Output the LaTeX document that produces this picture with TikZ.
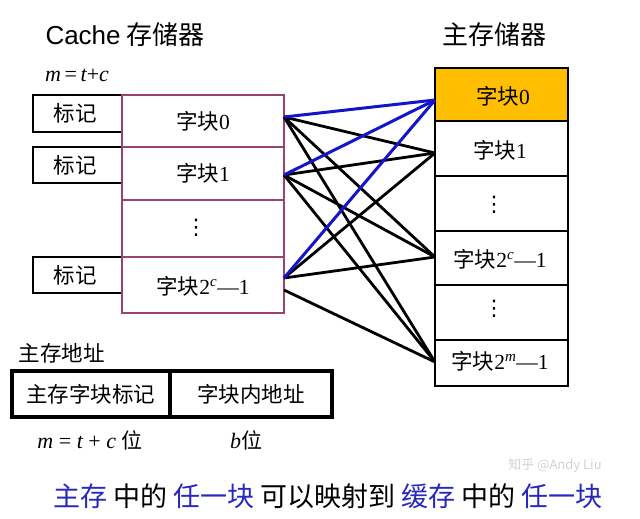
\documentclass[tikz,border=0pt]{standalone}
\usepackage{fontspec}
\setmainfont{Liberation Serif}
\newfontfamily\cjk{Noto Sans CJK SC}
\newfontfamily\djvfont{DejaVu Sans}
\definecolor{pinkb}{RGB}{150,70,110}
\definecolor{orng}{RGB}{255,190,0}
\definecolor{bl}{RGB}{20,20,200}
\definecolor{txtblue}{RGB}{40,40,190}
\newcommand{\vd}{{\djvfont ⋮}}
\newcommand{\mi}[1]{{\rmfamily\itshape #1}}
\newcommand{\rn}[1]{{\rmfamily #1}}
\begin{document}
\begin{tikzpicture}[x=1pt,y=-1pt,
  lbl/.style={font=\cjk\fontsize{21.5}{24}\selectfont},
  cell/.style={draw=pinkb,line width=2.5pt,fill=white},
  tagbox/.style={draw=black,line width=2.5pt},
  mcell/.style={draw=black,line width=2pt,fill=white},
  bline/.style={line width=2.8pt},
  blue/.style={line width=3pt,draw=bl}]
\useasboundingbox (0,0) rectangle (640,519);
\fill[white] (0,0) rectangle (640,519);
% titles
\node[font=\cjk\fontsize{26}{29}\selectfont] (t1) at (125,35) {{\fontspec{Liberation Sans}Cache} 存储器};
\node[font=\cjk\fontsize{26}{29}\selectfont] (t2) at (494,35) {主存储器};
\node[font=\fontsize{22}{24}\selectfont] (mtc) at (77,75) {\mi{m}\,=\,\mi{t}+\mi{c}};
% tag boxes
\draw[tagbox] (33,95) rectangle (122,132); \node[lbl] (g0) at (75,113) {标记};
\draw[tagbox] (33,147) rectangle (122,183); \node[lbl] (g1) at (75,165) {标记};
\draw[tagbox] (33,257) rectangle (122,293); \node[lbl] (g2) at (75,275) {标记};
% cache
\draw[cell] (122,95) rectangle (284,147);
\draw[cell] (122,147) rectangle (284,200);
\draw[cell] (122,200) rectangle (284,257);
\draw[cell] (122,257) rectangle (284,313);
\node[lbl] (c0) at (203,121) {字块\rn{0}};
\node[lbl] (c1) at (203,173) {字块\rn{1}};
\node[lbl] (cd) at (196,228) {\vd};
\node[lbl] (cn) at (203,286) {字块\rn{2}\textsuperscript{\mi{c}}\rn{—1}};
\coordinate (a0) at (284,117);
\coordinate (a1) at (284,175);
\coordinate (a2) at (284,278);
\coordinate (a3) at (284,290);
% main memory
\draw[mcell,fill=orng] (435,68) rectangle (568,121);
\draw[mcell] (435,121) rectangle (568,176);
\draw[mcell] (435,176) rectangle (568,231);
\draw[mcell] (435,231) rectangle (568,285);
\draw[mcell] (435,285) rectangle (568,340);
\draw[mcell] (435,340) rectangle (568,386);
\node[lbl] (m0) at (503,96) {字块\rn{0}};
\node[lbl] (m1) at (500,150) {字块\rn{1}};
\node[lbl] (md) at (494,205) {\vd};
\node[lbl] (mc) at (500,259) {字块\rn{2}\textsuperscript{\mi{c}}\rn{—1}};
\node[lbl] (me) at (494,309) {\vd};
\node[lbl] (mm) at (500,361) {字块\rn{2}\textsuperscript{\mi{m}}\rn{—1}};
\coordinate (b0) at (435,100);
\coordinate (b1) at (435,153);
\coordinate (b2) at (435,257);
\coordinate (b3) at (435,362);
% lines
\foreach \s in {a0,a1}{\foreach \t in {b1,b2,b3}{\draw[bline] (\s)--(\t);}}
\foreach \t in {b1,b2}{\draw[bline] (a2)--(\t);}
\draw[bline] (a3)--(b3);
\draw[blue] (a0)--(b0); \draw[blue] (a1)--(b0); \draw[blue] (a2)--(b0);
% address
\node[lbl] (addr) at (62,353) {主存地址};
\draw[line width=3.5pt] (12,371) rectangle (332,417);
\draw[line width=3.5pt] (170,371)--(170,417);
\node[lbl] (f1) at (91,394) {主存字块标记};
\node[lbl] (f2) at (251,394) {字块内地址};
\node[font=\fontsize{22}{24}\selectfont] (w1) at (90,440) {\mi{m} = \mi{t} + \mi{c} {\cjk\fontsize{21}{24}\selectfont 位}};
\node[font=\fontsize{22}{24}\selectfont] (w2) at (246,440) {\mi{b}{\cjk\fontsize{21}{24}\selectfont 位}};
\node[text=gray!35,font=\cjk\fontsize{13}{15}\selectfont] (wm) at (555,466) {知乎 @Andy Liu};
\node[font=\cjk\fontsize{27}{30}\selectfont] (bot) at (328,496) {\textcolor{txtblue}{主存} 中的 \textcolor{txtblue}{任一块} 可以映射到 \textcolor{txtblue}{缓存} 中的 \textcolor{txtblue}{任一块}};
\end{tikzpicture}
\end{document}
